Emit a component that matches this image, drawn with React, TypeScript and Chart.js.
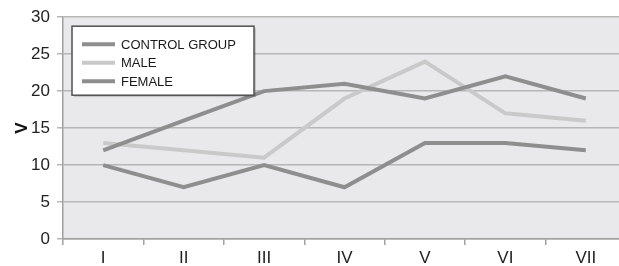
import React, { useEffect, useRef } from "react";
import { Chart, registerables } from "chart.js";

Chart.register(...registerables);

const categories = ["I", "II", "III", "IV", "V", "VI", "VII"];
const seriesNames = ["CONTROL GROUP", "MALE", "FEMALE"];
const controlGroup = [12, 16, 20, 21, 19, 22, 19];
const male = [13, 12, 11, 19, 24, 17, 16];
const female = [10, 7, 10, 7, 13, 13, 12];
const seriesColors = ["#8e8e8e", "#c9c9c9", "#8e8e8e"];
const yTicks = [0, 5, 10, 15, 20, 25, 30];
const yTitle = "V";

const FONT = "'Liberation Sans', Arial, sans-serif";

const plotBg = {
  id: "plotBg",
  beforeDraw(chart: any) {
    const { ctx, chartArea } = chart;
    ctx.save();
    ctx.fillStyle = "#e9e9eb";
    ctx.fillRect(chartArea.left, chartArea.top, chartArea.right - chartArea.left, chartArea.bottom - chartArea.top);
    ctx.restore();
  },
};

const boxLegend = {
  id: "boxLegend",
  afterDatasetsDraw(chart: any) {
    const { ctx, chartArea } = chart;
    const x = chartArea.left + 9;
    const y = chartArea.top + 9;
    const w = 182;
    const h = 69;
    ctx.save();
    ctx.fillStyle = "rgba(0,0,0,0.15)";
    ctx.fillRect(x + 2, y + 2, w, h);
    ctx.fillStyle = "#ffffff";
    ctx.fillRect(x, y, w, h);
    ctx.strokeStyle = "#505050";
    ctx.lineWidth = 1.5;
    ctx.strokeRect(x, y, w, h);
    ctx.font = `13px ${FONT}`;
    ctx.textBaseline = "middle";
    ctx.textAlign = "left";
    chart.data.datasets.forEach((ds: any, i: number) => {
      const cy = y + 18 + i * 18.5;
      ctx.strokeStyle = ds.borderColor;
      ctx.lineWidth = 4;
      ctx.beginPath();
      ctx.moveTo(x + 10, cy);
      ctx.lineTo(x + 43, cy);
      ctx.stroke();
      ctx.fillStyle = "#1a1a1a";
      ctx.fillText(ds.label, x + 49, cy + 1);
    });
    ctx.restore();
  },
};

export default function App() {
  const ref = useRef<HTMLCanvasElement | null>(null);
  useEffect(() => {
    if (!ref.current) return;
    const datasets = [controlGroup, male, female].map((d, i) => ({
      label: seriesNames[i],
      data: d,
      borderColor: seriesColors[i],
      backgroundColor: seriesColors[i],
      borderWidth: 4,
      pointRadius: 0,
      tension: 0,
      fill: false,
    }));
    const chart = new Chart(ref.current, {
      type: "line",
      data: { labels: categories, datasets },
      options: {
        animation: false,
        responsive: false,
        layout: { padding: { top: 16, left: 0, right: 0, bottom: 0 } },
        plugins: { legend: { display: false }, tooltip: { enabled: false } },
        scales: {
          x: {
            offset: true,
            grid: { offset: true, drawOnChartArea: false, drawTicks: true, tickLength: 6, color: "#a0a0a0", lineWidth: 1.5 },
            border: { color: "#a0a0a0", width: 1.5 },
            ticks: { color: "#222", font: { family: FONT, size: 17 }, padding: 3, maxRotation: 0 },
            afterFit: (s: any) => { s.height = 27; },
          },
          y: {
            min: 0,
            max: 30,
            afterBuildTicks: (s: any) => { s.ticks = yTicks.map((v) => ({ value: v })); },
            grid: { color: "#b6b6b6", lineWidth: 1.5, tickLength: 6 },
            border: { color: "#a0a0a0", width: 1.5 },
            ticks: { color: "#222", font: { family: FONT, size: 17 }, padding: 7 },
            title: { display: true, text: yTitle, color: "#111", font: { family: FONT, size: 17, weight: "bold" }, padding: { top: 12, bottom: 0 } },
            afterFit: (s: any) => { s.width = 63; },
          },
        },
      },
      plugins: [plotBg, boxLegend],
    });
    return () => chart.destroy();
  }, []);
  return (
    <div style={{ position: "fixed", left: 0, top: 0, width: 619, height: 266, overflow: "hidden", background: "#fff" }}>
      <canvas ref={ref} width={626} height={266} style={{ display: "block", width: 626, height: 266 }} />
    </div>
  );
}
